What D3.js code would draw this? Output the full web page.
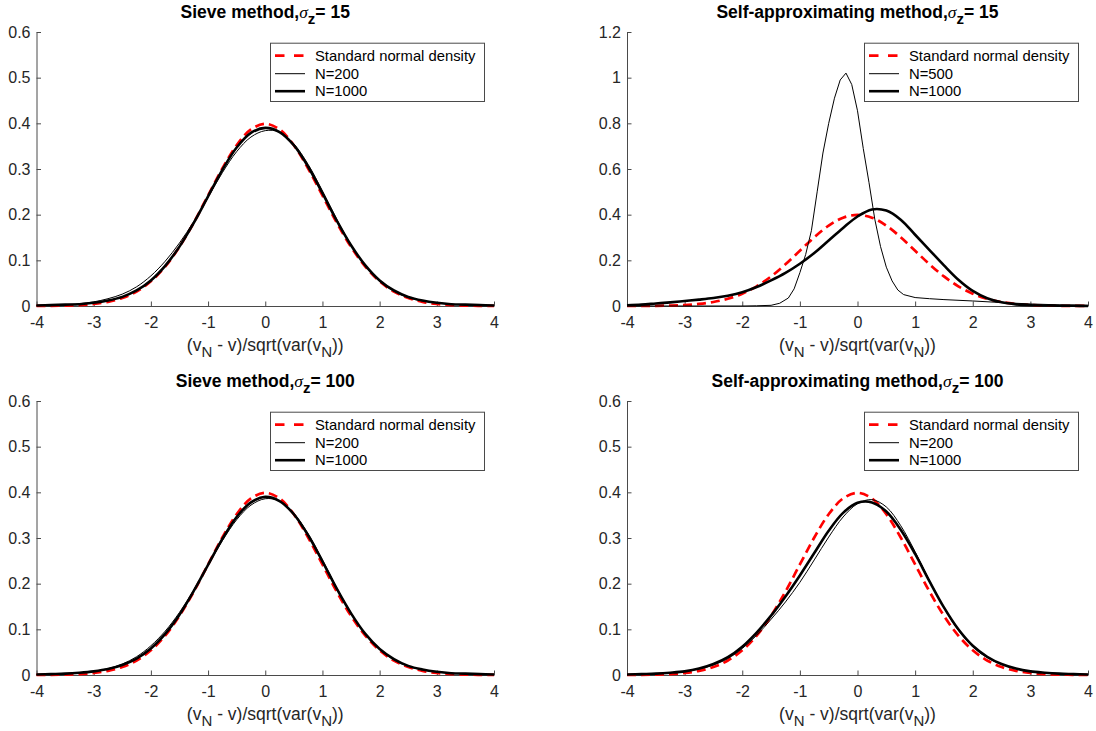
<!DOCTYPE html>
<html>
<head>
<meta charset="utf-8">
<script src="https://cdn.jsdelivr.net/npm/d3@7/dist/d3.min.js"></script>
<style>
  html, body { margin: 0; padding: 0; background: #fff; }
  svg { display: block; font-family: "Liberation Sans", Arial, Helvetica, sans-serif; }
</style>
</head>
<body>
<svg id="chart" width="1096" height="731"></svg>
<script>
// ---------------- DATA ----------------
const xTickValues = [-4, -3, -2, -1, 0, 1, 2, 3, 4];
const xTickLabels = ["-4", "-3", "-2", "-1", "0", "1", "2", "3", "4"];
const yTickValuesSmall = [0, 0.1, 0.2, 0.3, 0.4, 0.5, 0.6];
const yTickLabelsSmall = ["0", "0.1", "0.2", "0.3", "0.4", "0.5", "0.6"];
const yTickValuesLarge = [0, 0.2, 0.4, 0.6, 0.8, 1, 1.2];
const yTickLabelsLarge = ["0", "0.2", "0.4", "0.6", "0.8", "1", "1.2"];

const panelMethods = ["Sieve method,", "Self-approximating method,", "Sieve method,", "Self-approximating method,"];
const panelSigma = ["15", "15", "100", "100"];
const legendLabels = [
  ["Standard normal density", "N=200", "N=1000"],
  ["Standard normal density", "N=500", "N=1000"],
  ["Standard normal density", "N=200", "N=1000"],
  ["Standard normal density", "N=200", "N=1000"]
];

// common grid of evaluation points
const xGrid = [-4, -3.75, -3.5, -3.25, -3, -2.75, -2.5, -2.25, -2, -1.75, -1.5, -1.25, -1, -0.75, -0.5, -0.25,
               0, 0.25, 0.5, 0.75, 1, 1.25, 1.5, 1.75, 2, 2.25, 2.5, 2.75, 3, 3.25, 3.5, 3.75, 4];

const normalDensity = [0.0001, 0.0004, 0.0009, 0.0020, 0.0044, 0.0091, 0.0175, 0.0317, 0.0540, 0.0863, 0.1295, 0.1826, 0.2420, 0.3011, 0.3521, 0.3867,
                       0.3989, 0.3867, 0.3521, 0.3011, 0.2420, 0.1826, 0.1295, 0.0863, 0.0540, 0.0317, 0.0175, 0.0091, 0.0044, 0.0020, 0.0009, 0.0004, 0.0001];

// Sieve, sigma_z = 15
const sieve15N200  = [0.001, 0.002, 0.003, 0.005, 0.009, 0.016, 0.026, 0.042, 0.066, 0.098, 0.138, 0.185, 0.238, 0.292, 0.338, 0.370,
                      0.384, 0.381, 0.355, 0.310, 0.252, 0.190, 0.134, 0.088, 0.054, 0.032, 0.018, 0.011, 0.007, 0.004, 0.002, 0.001, 0.001];
const sieve15N1000 = [0.001, 0.002, 0.003, 0.004, 0.007, 0.012, 0.020, 0.034, 0.056, 0.088, 0.130, 0.182, 0.240, 0.298, 0.347, 0.379,
                      0.390, 0.381, 0.352, 0.305, 0.247, 0.187, 0.133, 0.089, 0.056, 0.034, 0.020, 0.012, 0.007, 0.004, 0.003, 0.002, 0.001];

// Self-approximating, sigma_z = 15
const self15N500X = [-4, -3, -2, -1.75, -1.5, -1.35, -1.2, -1.1, -1.0, -0.9, -0.8, -0.7, -0.6, -0.5, -0.4, -0.3, -0.2, -0.1,
                     0, 0.1, 0.2, 0.3, 0.4, 0.5, 0.6, 0.7, 0.8, 1.0, 1.25, 1.5, 2.0, 2.5, 3.0, 3.5, 4];
const self15N500  = [0, 0, 0, 0.001, 0.003, 0.012, 0.035, 0.075, 0.146, 0.225, 0.330, 0.500, 0.670, 0.800, 0.910, 0.990, 1.020, 0.970,
                     0.855, 0.690, 0.540, 0.380, 0.260, 0.170, 0.110, 0.070, 0.050, 0.037, 0.032, 0.028, 0.022, 0.015, 0.009, 0.005, 0.003];
const self15N1000 = [0.003, 0.006, 0.011, 0.016, 0.022, 0.028, 0.035, 0.045, 0.060, 0.083, 0.112, 0.145, 0.185, 0.232, 0.287, 0.342,
                     0.392, 0.423, 0.418, 0.378, 0.312, 0.245, 0.178, 0.115, 0.066, 0.034, 0.016, 0.007, 0.003, 0.002, 0.001, 0.001, 0.000];

// Sieve, sigma_z = 100
const sieve100N200  = [0.001, 0.002, 0.003, 0.005, 0.008, 0.014, 0.024, 0.040, 0.064, 0.096, 0.137, 0.186, 0.240, 0.294, 0.340, 0.372,
                       0.386, 0.381, 0.354, 0.309, 0.252, 0.191, 0.136, 0.090, 0.056, 0.033, 0.019, 0.011, 0.007, 0.004, 0.002, 0.001, 0.001];
const sieve100N1000 = [0.001, 0.002, 0.003, 0.005, 0.008, 0.013, 0.022, 0.036, 0.058, 0.090, 0.132, 0.184, 0.241, 0.298, 0.346, 0.378,
                       0.390, 0.381, 0.352, 0.306, 0.249, 0.189, 0.135, 0.090, 0.057, 0.035, 0.020, 0.012, 0.007, 0.004, 0.003, 0.002, 0.001];

// Self-approximating, sigma_z = 100
const self100N200  = [0.001, 0.002, 0.003, 0.005, 0.008, 0.013, 0.022, 0.036, 0.058, 0.087, 0.122, 0.160, 0.203, 0.252, 0.302, 0.346,
                      0.375, 0.384, 0.368, 0.327, 0.270, 0.207, 0.147, 0.098, 0.062, 0.038, 0.023, 0.014, 0.008, 0.005, 0.003, 0.002, 0.001];
const self100N1000 = [0.001, 0.002, 0.003, 0.005, 0.008, 0.014, 0.024, 0.039, 0.062, 0.093, 0.130, 0.172, 0.218, 0.267, 0.316, 0.355,
                      0.377, 0.378, 0.358, 0.318, 0.265, 0.205, 0.148, 0.100, 0.064, 0.040, 0.024, 0.014, 0.008, 0.005, 0.003, 0.002, 0.001];

// ---------------- LAYOUT ----------------
const panels = [
  { left: 36.5, right: 494, top: 32, bottom: 306, yMax: 0.6, yTicks: yTickValuesSmall, yLabels: yTickLabelsSmall,
    thinX: xGrid, thin: sieve15N200, thick: sieve15N1000, thinCurve: d3.curveCatmullRom },
  { left: 627, right: 1088, top: 32, bottom: 306, yMax: 1.2, yTicks: yTickValuesLarge, yLabels: yTickLabelsLarge,
    thinX: self15N500X, thin: self15N500, thick: self15N1000, thinCurve: d3.curveLinear },
  { left: 36.5, right: 494, top: 401, bottom: 675, yMax: 0.6, yTicks: yTickValuesSmall, yLabels: yTickLabelsSmall,
    thinX: xGrid, thin: sieve100N200, thick: sieve100N1000, thinCurve: d3.curveCatmullRom },
  { left: 627, right: 1088, top: 401, bottom: 675, yMax: 0.6, yTicks: yTickValuesSmall, yLabels: yTickLabelsSmall,
    thinX: xGrid, thin: self100N200, thick: self100N1000, thinCurve: d3.curveCatmullRom }
];

const axisColor = "#4a4a4a";
const textColor = "#262626";
const svg = d3.select("#chart");

panels.forEach((p, i) => {
  const x = d3.scaleLinear().domain([-4, 4]).range([p.left, p.right]);
  const y = d3.scaleLinear().domain([0, p.yMax]).range([p.bottom, p.top]);
  const g = svg.append("g");

  // axes
  const xAxis = d3.axisBottom(x).tickValues(xTickValues).tickFormat((d, k) => xTickLabels[k])
    .tickSizeInner(-4.5).tickSizeOuter(0).tickPadding(11);
  const yAxis = d3.axisLeft(y).tickValues(p.yTicks).tickFormat((d, k) => p.yLabels[k])
    .tickSizeInner(-4.5).tickSizeOuter(0).tickPadding(6);

  const gx = g.append("g").attr("transform", `translate(0,${p.bottom})`).call(xAxis);
  const gy = g.append("g").attr("transform", `translate(${p.left},0)`).call(yAxis);
  [gx, gy].forEach(ax => {
    ax.select(".domain").attr("stroke", axisColor).attr("stroke-width", 1);
    ax.selectAll(".tick line").attr("stroke", axisColor).attr("stroke-width", 1);
    ax.selectAll(".tick text").attr("fill", textColor).style("font-size", "16px")
      .style("font-family", '"Liberation Sans", Arial, sans-serif');
  });

  // curves
  const normPts = xGrid.map((xv, k) => [xv, normalDensity[k]]);
  const thinPts = p.thinX.map((xv, k) => [xv, p.thin[k]]);
  const thickPts = xGrid.map((xv, k) => [xv, p.thick[k]]);
  const line = d3.line().x(d => x(d[0])).y(d => y(d[1])).curve(d3.curveCatmullRom);
  const lineThin = d3.line().x(d => x(d[0])).y(d => y(d[1])).curve(p.thinCurve);

  g.append("path").attr("d", line(normPts)).attr("fill", "none").attr("stroke", "#ff0000")
    .attr("stroke-width", 2.7).attr("stroke-dasharray", "9,5");
  g.append("path").attr("d", lineThin(thinPts)).attr("fill", "none").attr("stroke", "#000")
    .attr("stroke-width", 1).attr("stroke-linejoin", "miter");
  g.append("path").attr("d", line(thickPts)).attr("fill", "none").attr("stroke", "#000")
    .attr("stroke-width", 2.6);

  // title
  const cx = (p.left + p.right) / 2;
  const title = g.append("text").attr("x", cx).attr("y", p.top - 14).attr("text-anchor", "middle")
    .attr("fill", "#000").style("font-size", "17.5px").style("font-weight", "bold");
  title.append("tspan").text(panelMethods[i]);
  title.append("tspan").text("σ").style("font-family", '"Liberation Serif", serif').style("font-style", "italic")
    .style("font-weight", "normal");
  title.append("tspan").text("z").attr("dy", 6).style("font-size", "15px");
  title.append("tspan").text("= " + panelSigma[i]).attr("dy", -6);

  // x label
  const xl = g.append("text").attr("x", cx).attr("y", p.bottom + 45).attr("text-anchor", "middle")
    .attr("fill", textColor).style("font-size", "17.5px");
  xl.append("tspan").text("(v");
  xl.append("tspan").text("N").attr("dy", 6).style("font-size", "15px");
  xl.append("tspan").text(" - v)/sqrt(var(v").attr("dy", -6);
  xl.append("tspan").text("N").attr("dy", 6).style("font-size", "15px");
  xl.append("tspan").text("))").attr("dy", -6);

  // legend
  const lw = 214, lh = 58.3;
  const lx = p.right - 10 - lw, ly = p.top + 10.7;
  const lg = g.append("g");
  lg.append("rect").attr("x", lx + 0.5).attr("y", ly + 0.5).attr("width", lw).attr("height", lh)
    .attr("fill", "#fff").attr("stroke", axisColor).attr("stroke-width", 1);
  const rows = [ly + 13, ly + 31, ly + 48.5];
  const styles = [
    { stroke: "#ff0000", w: 2.7, dash: "9.5,9.5" },
    { stroke: "#000", w: 1, dash: null },
    { stroke: "#000", w: 2.6, dash: null }
  ];
  legendLabels[i].forEach((lab, k) => {
    const s = styles[k];
    const ln = lg.append("line").attr("x1", lx + 5).attr("x2", lx + 35).attr("y1", rows[k]).attr("y2", rows[k])
      .attr("stroke", s.stroke).attr("stroke-width", s.w);
    if (s.dash) ln.attr("stroke-dasharray", s.dash);
    lg.append("text").attr("x", lx + 45).attr("y", rows[k]).attr("dy", "0.35em").attr("fill", "#000")
      .style("font-size", "14.8px").text(lab);
  });
});
</script>
</body>
</html>
